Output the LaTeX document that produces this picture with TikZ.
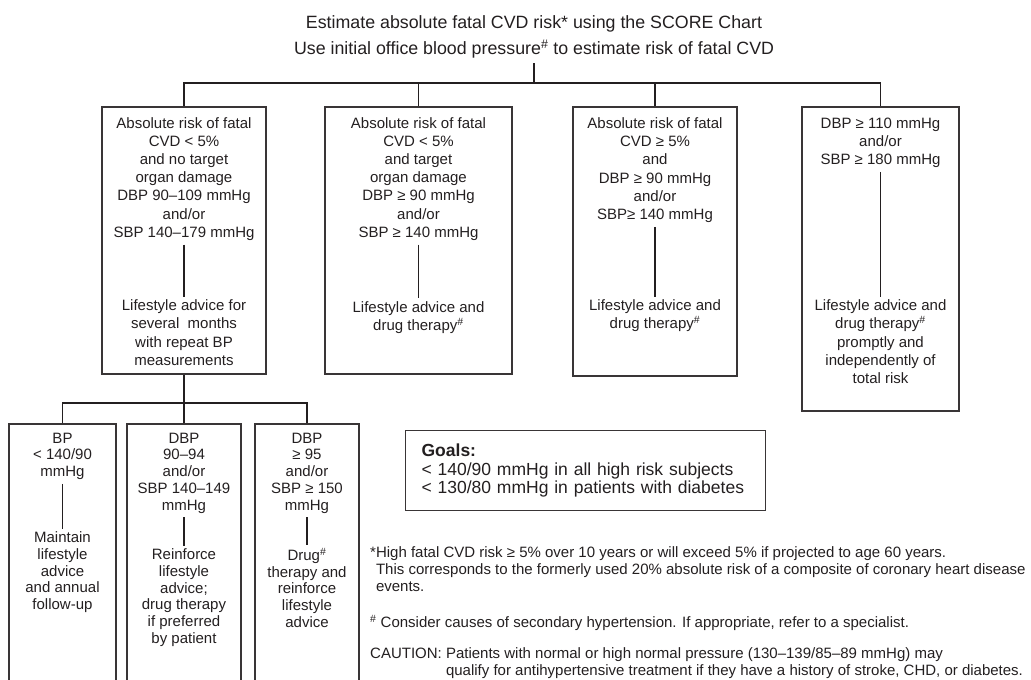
\documentclass[tikz,border=0pt]{standalone}
\usepackage{fontspec}
\setmainfont{Liberation Sans}
\usepackage{tikz}
\usetikzlibrary{positioning}
\definecolor{ink}{HTML}{231F20}
\tikzset{
  panel/.style 2 args = {draw=ink!90, line width=1.2pt, minimum width=#1, minimum height=#2, inner sep=0pt},
  cond/.style = {align=center, inner sep=0pt, anchor=north, text=ink, font=\fontsize{15}{18.2}\selectfont},
  lowcond/.style = {cond, font=\fontsize{15}{16.7}\selectfont},
  note/.style = {align=left, inner sep=0pt, anchor=north west, text=ink, font=\fontsize{15}{17}\selectfont},
  link/.style = {draw=ink, line width=1.4pt},
  stem/.style = {link, shorten <=4pt, shorten >=3pt},
}
\newcommand{\hs}{\textsuperscript{\#}}

\begin{document}
\begin{tikzpicture}[x=1pt, y=-1pt]
      \useasboundingbox (0,0) rectangle (1031,680);

      \node[cond, font=\fontsize{17.8}{26}\selectfont] (title) at (534,15.5)
        {Estimate absolute fatal CVD risk* using the SCORE Chart\\
         Use initial office blood pressure\hs{} to estimate risk of fatal CVD};
      \coordinate (hub) at (534,83);

      % upper row
      \node[panel={164pt}{267pt}] (b1) at (184,240.5) {};
      \node[panel={187pt}{267pt}] (b2) at (418.5,240.5) {};
      \node[panel={164pt}{269pt}] (b3) at (655,241.5) {};
      \node[panel={157pt}{304pt}] (b4) at (880.5,259) {};

      \node[cond] (c1) at (184,117) {Absolute risk of fatal\\CVD < 5\%\\and no target\\organ damage\\DBP 90–109 mmHg\\and/or\\SBP 140–179 mmHg};
      \node[cond] (a1) at (184,299.7) {Lifestyle advice for\\several\ \ months\\with repeat BP\\measurements};
      \node[cond] (c2) at (418.5,117) {Absolute risk of fatal\\CVD < 5\%\\and target\\organ damage\\DBP ≥ 90 mmHg\\and/or\\SBP ≥ 140 mmHg};
      \node[cond] (a2) at (418.5,301) {Lifestyle advice and\\drug therapy\hs};
      \node[cond] (c3) at (655,117.5) {Absolute risk of fatal\\CVD ≥ 5\%\\and\\DBP ≥ 90 mmHg\\and/or\\SBP≥ 140 mmHg};
      \node[cond] (a3) at (655,299.7) {Lifestyle advice and\\drug therapy\hs};
      \node[cond] (c4) at (880.5,117.5) {DBP ≥ 110 mmHg\\and/or\\SBP ≥ 180 mmHg};
      \node[cond] (a4) at (880.5,299.7) {Lifestyle advice and\\drug therapy\hs\\promptly and\\independently of\\total risk};

      \draw[link, shorten <=5pt] (title) -- (hub);
      \draw[link] (b1.north) |- (hub) -| (b4.north);
      \draw[link] (b2.north) -- (b2.north |- hub);
      \draw[link] (b3.north) -- (b3.north |- hub);
      \foreach \i in {1,...,4}
        \draw[stem] (c\i) -- (a\i);

      % lower row
      \coordinate (fork) at (184,403);
      \node[panel={107pt}{276pt}] (d1) at (62.5,562) {};
      \node[panel={114pt}{276pt}] (d2) at (184,562) {};
      \node[panel={104pt}{276pt}] (d3) at (307,562) {};

      \node[lowcond] (e1) at (62.5,432.7) {BP\\< 140/90\\mmHg};
      \node[lowcond] (f1) at (62.5,531.7) {Maintain\\lifestyle\\advice\\and annual\\follow-up};
      \node[lowcond] (e2) at (184,432.7) {DBP\\90–94\\and/or\\SBP 140–149\\mmHg};
      \node[lowcond] (f2) at (184,548.7) {Reinforce\\lifestyle\\advice;\\drug therapy\\if preferred\\by patient};
      \node[lowcond] (e3) at (307,432.7) {DBP\\≥ 95\\and/or\\SBP ≥ 150\\mmHg};
      \node[lowcond] (f3) at (307,547.7) {Drug\hs\\therapy and\\reinforce\\lifestyle\\advice};

      \draw[link] (b1) -- (fork);
      \draw[link] (d1.north) |- (fork) -| (d3.north);
      \draw[link] (d2.north) -- (fork);
      \foreach \i in {1,...,3}
        \draw[stem] (e\i) -- (f\i);

      % goals and notes
      \node[draw=ink!90, line width=1.2pt, anchor=north west, minimum width=360pt, minimum height=80pt,
            inner xsep=16pt, align=left, text width=328pt, text=ink, font=\fontsize{17.5}{18.5}\selectfont]
        (goals) at (405,430) {\textbf{Goals:}\\< 140/90 mmHg in all high risk subjects\\< 130/80 mmHg in patients with diabetes};

      \node[note] (n1) at (370,546.7)
        {*High fatal CVD risk ≥ 5\% over 10 years or will exceed 5\% if projected to age 60 years.\\
         \hphantom{*}This corresponds to the formerly used 20\% absolute risk of a composite of coronary heart disease\\
         \hphantom{*}events.};
      \node[note] (n2) at (370,614.7)
        {\hs{} Consider causes of secondary hypertension. If appropriate, refer to a specialist.};
      \node[note] (n3) at (370,647.7)
        {CAUTION: Patients with normal or high normal pressure (130–139/85–89 mmHg) may\\
         \hphantom{CAUTION: }qualify for antihypertensive treatment if they have a history of stroke, CHD, or diabetes.};
    \end{tikzpicture}
\end{document}
